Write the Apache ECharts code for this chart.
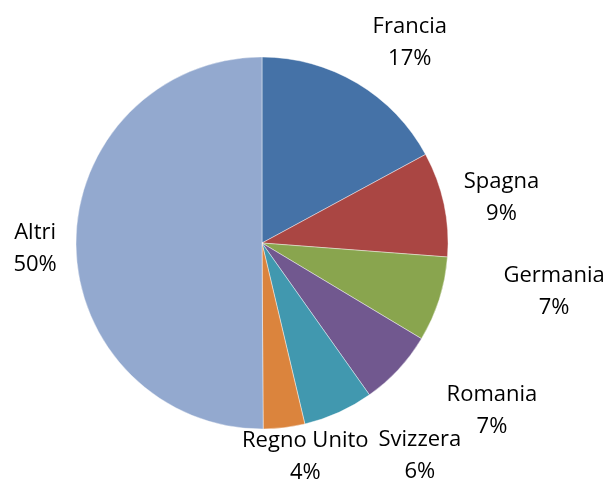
<!DOCTYPE html>
<html>
<head>
<meta charset="utf-8">
<script src="https://cdn.jsdelivr.net/npm/echarts@6/dist/echarts.min.js"></script>
<style>
  html, body { margin: 0; padding: 0; background: #fff; }
  #main { width: 609px; height: 480px; }
</style>
</head>
<body>
<div id="main"></div>
<script>
var categories = ["Francia", "Spagna", "Germania", "Romania", "Svizzera", "Regno Unito", "Altri"];
var values = [17.1, 9.1, 7.4, 6.6, 6.1, 3.6, 50.1];
var colors = ["#4572A7", "#AA4643", "#89A54E", "#71588F", "#4198AF", "#DB843D", "#93A9CF"];

// label placement (style): angle offset from slice middle in degrees, distance as multiple of radius
var labelAngleShift = [5.4, 1.0, -8.6, -7.1, -12.5, -4.7, -0.7];
var labelDist = [1.346, 1.312, 1.590, 1.523, 1.417, 1.163, 1.220];

var CX = 262, CY = 243, R = 186;

var total = values.reduce(function (a, b) { return a + b; }, 0);
var cum = [];
values.reduce(function (acc, v, i) { cum[i] = acc; return acc + v; }, 0);

var chartDom = document.getElementById("main");
var myChart = echarts.init(chartDom);
var option = {
  animation: false,
  color: colors,
  series: [
    {
      type: "pie",
      center: [CX, CY],
      radius: R,
      startAngle: 90,
      clockwise: true,
      percentPrecision: 0,
      data: categories.map(function (c, i) { return { name: c, value: values[i] }; }),
      itemStyle: { borderColor: "rgba(255,255,255,0.7)", borderWidth: 0.6 },
      label: {
        show: true,
        position: "outside",
        formatter: "{b}\n{d}%",
        fontFamily: "Open Sans",
        fontSize: 22,
        lineHeight: 32,
        color: "#000",
        overflow: "none"
      },
      labelLine: { show: false },
      emphasis: { disabled: true },
      labelLayout: function (p) {
        var i = p.dataIndex;
        var mid = (cum[i] + values[i] / 2) / total * 360 + labelAngleShift[i];
        var a = mid * Math.PI / 180;
        var d = R * labelDist[i];
        return { x: CX + Math.sin(a) * d, y: CY - Math.cos(a) * d + 2, align: "center", verticalAlign: "middle" };
      }
    }
  ]
};

option && myChart.setOption(option);
</script>
</body>
</html>
